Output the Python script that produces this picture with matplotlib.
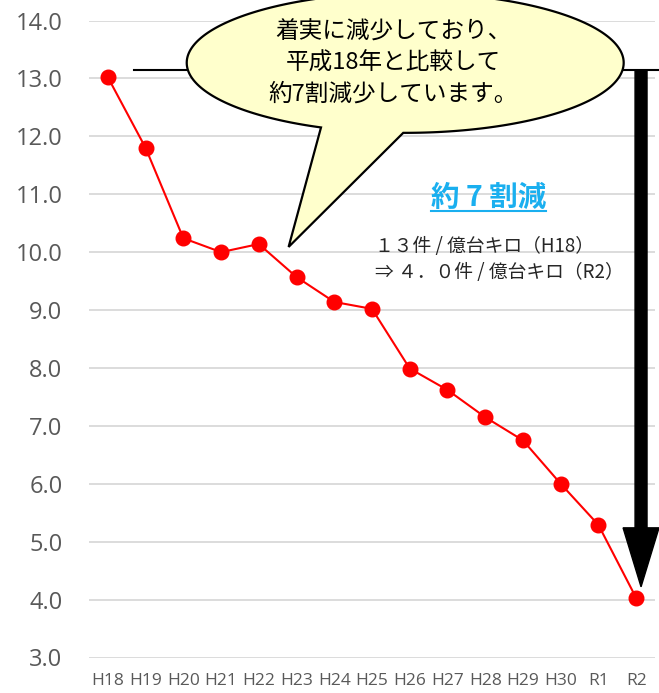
import numpy as np
import matplotlib
matplotlib.use("Agg")
import matplotlib.pyplot as plt
import matplotlib.patches as patches

plt.rcParams['font.family'] = ['Noto Sans CJK JP', 'DejaVu Sans']

years = ['H18', 'H19', 'H20', 'H21', 'H22', 'H23', 'H24', 'H25',
         'H26', 'H27', 'H28', 'H29', 'H30', 'R1', 'R2']
rates = [13.02, 11.80, 10.24, 10.00, 10.14, 9.57, 9.14, 9.02,
         7.99, 7.62, 7.15, 6.75, 6.00, 5.29, 4.03]
y_ticks = [3.0, 4.0, 5.0, 6.0, 7.0, 8.0, 9.0, 10.0, 11.0, 12.0, 13.0, 14.0]

bubble_lines = ['着実に減少しており、', '平成18年と比較して', '約7割減少しています。']
headline = '約 7 割減'
note_lines = ['１３件 / 億台キロ（H18）', '⇒ ４．０件 / 億台キロ（R2）']

W, H = 659, 693
fig = plt.figure(figsize=(W / 100, H / 100), dpi=100)
ax = fig.add_axes([89 / W, 1 - 657.5 / H, 566 / W, 637 / H])

x = np.arange(len(years))
ax.set_xlim(-0.5, len(years) - 0.5)
ax.set_ylim(y_ticks[0], y_ticks[-1])
ax.set_yticks(y_ticks)
ax.set_yticklabels([f'{v:.1f}' for v in y_ticks], family='Open Sans', fontsize=17, color='#595959')
ax.set_xticks(x)
ax.set_xticklabels(years, family='Open Sans', fontsize=12.5, color='#595959')
ax.tick_params(axis='both', length=0)
ax.tick_params(axis='y', pad=19)
ax.tick_params(axis='x', pad=11)
for s in ax.spines.values():
    s.set_visible(False)
ax.yaxis.grid(True, color='#D9D9D9', lw=1.3)
ax.set_axisbelow(True)

# data line
ax.plot(x, rates, color='#FF0000', lw=1.5, marker='o', markersize=10.5, zorder=4)

# reference line at H18 level and the big arrow down to R2
top_y = 13.145
ax.plot([0.69, 14.6], [top_y, top_y], color='black', lw=1.5, clip_on=False, zorder=3)
arrow_x = 14.13
tip_y = 4.22
arr = patches.FancyArrow(arrow_x, top_y, 0, tip_y - top_y, width=12 / 37.8,
                         head_width=36 / 37.8, head_length=59 / 57.9,
                         length_includes_head=True, color='black', clip_on=False, zorder=5)
ax.add_patch(arr)

# speech bubble (ellipse + tail as one outline)
cx, cy, a, b = 7.88, 13.27, 5.79, 1.21
t1 = np.arctan2(-0.929, -0.388)
t2 = np.arctan2(-1.0, -0.009)
ts = np.linspace(t2, t1 + 2 * np.pi, 300)
pts = np.column_stack([cx + a * np.cos(ts), cy + b * np.sin(ts)])
pts = np.vstack([pts, [[4.79, 10.09]]])
bubble = patches.Polygon(pts, closed=True, facecolor='#FFFFCC', edgecolor='black',
                         lw=1.6, clip_on=False, zorder=6)
ax.add_patch(bubble)
for line, yy in zip(bubble_lines, [13.80, 13.27, 12.72]):
    ax.text(7.57, yy, line, ha='center', va='center', fontsize=17, color='black', zorder=7)

# headline with underline
ht = ax.text(10.08, 10.93, headline, ha='center', va='center', fontsize=20.5,
             fontweight='bold', color='#1AAFEF', zorder=7)
fig.canvas.draw()
bb = ht.get_window_extent(fig.canvas.get_renderer())
inv = ax.transData.inverted()
(x0, y0), (x1, _) = inv.transform([(bb.x0, bb.y0), (bb.x1, bb.y0)])
ax.plot([x0, x1], [y0 + 0.03, y0 + 0.03], color='#1AAFEF', lw=1.5, zorder=7)

for line, yy in zip(note_lines, [10.09, 9.64]):
    ax.text(7.09, yy, line, ha='left', va='center', fontsize=13.5, color='#262626', zorder=7)

fig.savefig('out.png', dpi=100)
